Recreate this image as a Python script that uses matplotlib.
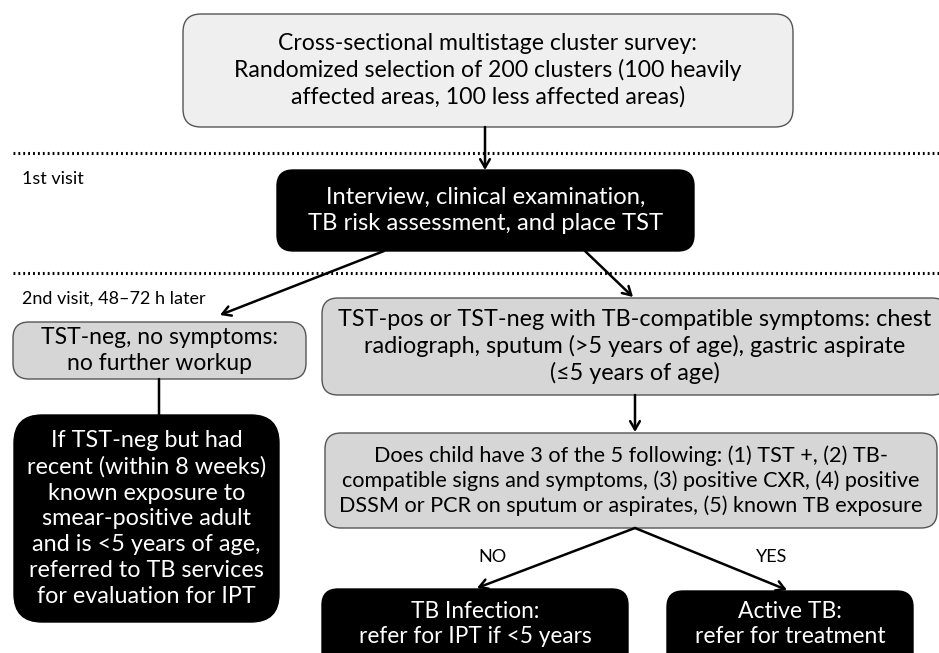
import matplotlib.pyplot as plt
from matplotlib.patches import FancyBboxPatch

plt.rcParams['font.family'] = ['Lato', 'DejaVu Sans']

# texts of the flowchart
survey_text = ("Cross-sectional multistage cluster survey:\n"
               "Randomized selection of 200 clusters (100 heavily\n"
               "affected areas, 100 less affected areas)")
visit1_text = "Interview, clinical examination,\nTB risk assessment, and place TST"
neg_text = "TST-neg, no symptoms:\nno further workup"
exposure_text = ("If TST-neg but had\nrecent (within 8 weeks)\nknown exposure to\n"
                 "smear-positive adult\nand is <5 years of age,\nreferred to TB services\n"
                 "for evaluation for IPT")
pos_text = ("TST-pos or TST-neg with TB-compatible symptoms: chest\n"
            "radiograph, sputum (>5 years of age), gastric aspirate\n"
            "(≤5 years of age)")
criteria_text = ("Does child have 3 of the 5 following: (1) TST +, (2) TB-\n"
                 "compatible signs and symptoms, (3) positive CXR, (4) positive\n"
                 "DSSM or PCR on sputum or aspirates, (5) known TB exposure")
infection_text = "TB Infection:\nrefer for IPT if <5 years"
active_text = "Active TB:\nrefer for treatment"
stage_labels = ["1st visit", "2nd visit, 48–72 h later"]
branch_labels = ["NO", "YES"]

LIGHT = '#efefef'
GRAY = '#d6d6d6'
EDGE = '#555555'
LS = 1.28

fig = plt.figure(figsize=(9.39, 6.53), dpi=100)
ax = fig.add_axes([0, 0, 1, 1])
ax.set_xlim(0, 939)
ax.set_ylim(653, 0)
ax.axis('off')


def box(x0, y0, x1, y1, text, fill, size, r=16, ty=None):
    dark = fill == 'black'
    p = FancyBboxPatch((x0, y0), x1 - x0, y1 - y0,
                       boxstyle=f"round,pad=0,rounding_size={r}",
                       fc=fill, ec='black' if dark else EDGE, lw=1.0,
                       clip_on=False)
    ax.add_patch(p)
    if ty is None:
        ty = (y0 + y1) / 2
    ax.text((x0 + x1) / 2, ty, text, ha='center', va='center',
            fontsize=size, color='white' if dark else 'black', linespacing=LS)


def arrow(x0, y0, x1, y1, head=True):
    style = '->,head_length=0.6,head_width=0.35' if head else '-'
    ax.annotate('', xy=(x1, y1), xytext=(x0, y0),
                arrowprops=dict(arrowstyle=style, color='black', lw=1.8,
                                shrinkA=0, shrinkB=0))


# dotted stage separators
for y in (153, 273):
    ax.plot([13, 939], [y, y], color='black', lw=2.2, ls=(0, (0.6, 1.0)))

ax.text(22, 179, stage_labels[0], fontsize=13, va='center', ha='left')
ax.text(22, 299, stage_labels[1], fontsize=13, va='center', ha='left')

box(183, 14, 793, 127, survey_text, LIGHT, 16.6, r=18)
box(277, 170, 694, 251, visit1_text, 'black', 17.1)
box(13, 322, 306, 379, neg_text, GRAY, 16.5)
box(14, 415, 279, 622, exposure_text, 'black', 16.8, r=28)
box(322, 298, 948, 395, pos_text, GRAY, 16.8)
box(325, 433, 937, 528, criteria_text, GRAY, 15.6)
box(322, 589, 628, 690, infection_text, 'black', 16.3, ty=624)
box(667, 591, 913, 690, active_text, 'black', 16.5, ty=624)

arrow(485, 127, 485, 170)
arrow(384, 251, 220, 315)
arrow(585, 251, 633, 297)
arrow(159, 379, 159, 415, head=False)
arrow(635, 395, 635, 432)
arrow(635, 528, 477, 588)
arrow(635, 528, 787, 590)

ax.text(492, 557, branch_labels[0], fontsize=13, ha='center', va='center')
ax.text(772, 557, branch_labels[1], fontsize=13, ha='center', va='center')

fig.savefig('out.png', dpi=100)
